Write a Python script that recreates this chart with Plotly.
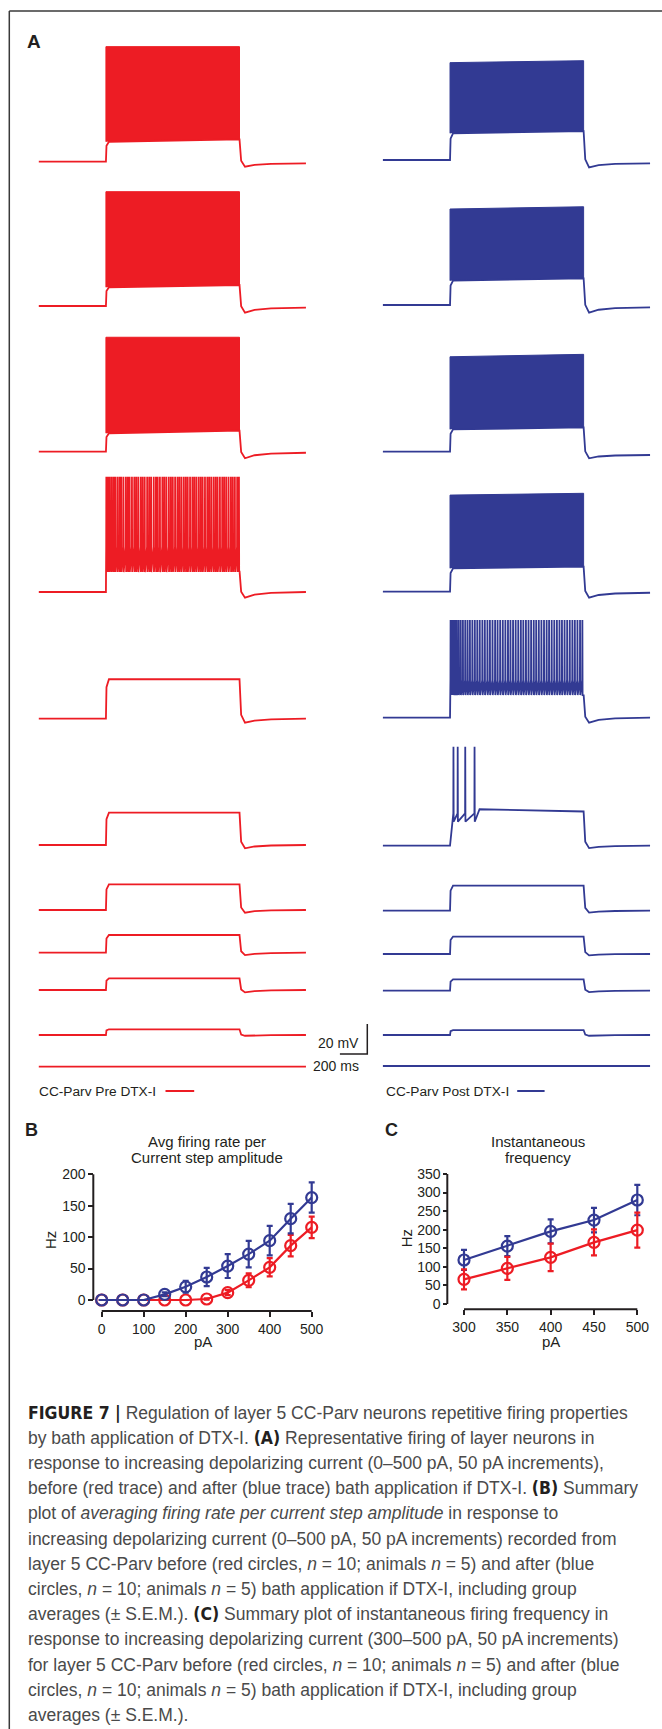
import plotly.graph_objects as go

W, H = 662, 1729
RED, BLUE, INK = '#ed1c24', '#323a93', '#231f20'
SANS = 'Liberation Sans, Arial, Helvetica, sans-serif'

# ---------------- Panel A : representative sweeps (mV relative to rest, ms) ----------------
STEP_PA = [500, 450, 400, 350, 300, 250, 200, 150, 100, 50, 0]
STEP_ON_MS, STEP_OFF_MS, SWEEP_END_MS = 490, 1465, 1950

PRE_MODE = ['block', 'block', 'block', 'train', 'flat', 'flat', 'flat', 'flat', 'flat', 'flat', 'flat']
PRE_PLATEAU_START_MV = [13.3, 12.5, 12.3, 13.3, 26.3, 21.6, 17.1, 11.8, 7.8, 3.8, 0.0]
PRE_PLATEAU_END_MV = [14.9, 14.0, 14.0, 14.2, 26.3, 21.6, 17.1, 11.8, 7.8, 3.8, 0.0]
PRE_PEAK_START_MV = [76.7, 76.2, 76.3, 76.9, None, None, None, None, None, None, None]
PRE_PEAK_END_MV = [76.7, 76.2, 76.3, 76.9, None, None, None, None, None, None, None]
PRE_TROUGH_MV = [None, None, None, 13.3, None, None, None, None, None, None, None]
PRE_THRESHOLD_MV = [None, None, None, 30.2, None, None, None, None, None, None, None]
PRE_DIP_MV = [-3.3, -4.4, -4.4, -3.8, -2.7, -2.2, -1.8, -1.6, -1.6, -0.5, 0.0]
PRE_END_MV = [-1.1, -1.1, -0.7, 0.0, 0.0, 0.0, 0.0, 0.0, 0.0, 0.0, 0.0]
PRE_350PA_SPIKES_MS = [3, 14, 27, 41, 55, 68, 84, 99, 112, 128, 146, 160, 173, 190, 207, 221, 236,
                       254, 268, 283, 301, 316, 330, 349, 365, 378, 394, 412, 426, 441, 459, 474,
                       488, 505, 522, 536, 551, 568, 583, 597, 614, 631, 645, 660, 677, 692, 706,
                       723, 740, 754, 769, 786, 801, 815, 832, 849, 863, 878, 895, 912, 926, 941,
                       958, 971]

POST_MODE = ['block', 'block', 'block', 'block', 'train', 'train', 'flat', 'flat', 'flat', 'flat', 'flat']
POST_PLATEAU_START_MV = [17.8, 16.2, 14.9, 15.6, 15.1, 24.3, 16.7, 11.6, 7.6, 3.3, 0.0]
POST_PLATEAU_END_MV = [19.3, 17.8, 16.2, 16.7, 15.5, 22.8, 16.7, 11.6, 7.6, 3.3, 0.0]
POST_PEAK_START_MV = [64.9, 64.0, 63.3, 64.4, 65.1, 66.0, None, None, None, None, None]
POST_PEAK_END_MV = [66.2, 65.5, 64.9, 65.6, 65.1, 66.0, None, None, None, None, None]
POST_TROUGH_MV = [None, None, None, None, 15.1, 16.0, None, None, None, None, None]
POST_THRESHOLD_MV = [None, None, None, None, 25.1, 21.5, None, None, None, None, None]
POST_DIP_MV = [-4.9, -5.1, -4.4, -4.0, -3.3, -1.6, -1.3, -0.9, -0.9, -0.5, 0.0]
POST_END_MV = [-2.2, -1.6, -2.2, -0.7, 0.0, 0.0, 0.0, 0.0, 0.0, 0.0, 0.0]
POST_300PA_SPIKES_MS = [4, 13, 24, 36, 49, 63, 78, 94, 111, 128, 145, 163, 181, 199, 217, 236, 254,
                        273, 291, 310, 329, 347, 366, 385, 404, 423, 441, 460, 479, 498, 517, 535,
                        554, 573, 592, 611, 629, 648, 667, 686, 705, 723, 742, 761, 780, 799, 817,
                        836, 855, 874, 893, 911, 930, 949, 966]
POST_250PA_SPIKES_MS = [25, 56, 111, 179]

PRE_SPIKES = [None, None, None, PRE_350PA_SPIKES_MS] + [None] * 7
POST_SPIKES = [None, None, None, None, POST_300PA_SPIKES_MS, POST_250PA_SPIKES_MS] + [None] * 5

SCALE_MS, SCALE_MV = 200, 20

# ---------------- Panel B : average firing rate ----------------
B_PA = [0, 50, 100, 150, 200, 250, 300, 350, 400, 450, 500]
B_PRE_HZ = [0, 0, 0, 0, 0, 1.6, 11.7, 31.3, 52.0, 86.5, 115.6]
B_PRE_SEM = [0, 0, 0, 0, 0, 1.0, 4.0, 11.0, 14.5, 17.0, 17.0]
B_POST_HZ = [0, 0, 0, 9.0, 21.0, 36.6, 54.0, 73.0, 94.4, 129.4, 163.0]
B_POST_SEM = [0, 0, 0, 3.0, 9.5, 14.5, 19.0, 21.0, 23.5, 23.5, 24.0]
B_XTICKS = [0, 100, 200, 300, 400, 500]
B_YTICKS = [0, 50, 100, 150, 200]

# ---------------- Panel C : instantaneous frequency ----------------
C_PA = [300, 350, 400, 450, 500]
C_PRE_HZ = [66.4, 96.0, 125.6, 166.0, 199.0]
C_PRE_SEM = [27, 31, 37, 35, 47]
C_POST_HZ = [118.5, 156.0, 195.6, 226.0, 280.0]
C_POST_SEM = [27, 27, 32, 33, 41]
C_XTICKS = [300, 350, 400, 450, 500]
C_YTICKS = [0, 50, 100, 150, 200, 250, 300, 350]

BOLD = "<span style=\"font-family:'Liberation Sans Narrow','DejaVu Sans Condensed',sans-serif;color:#231f20\"><b>{}</b></span>"
CAPTION = [
    BOLD.format("FIGURE 7 |") + " Regulation of layer 5 CC-Parv neurons repetitive firing properties",
    "by bath application of DTX-I. " + BOLD.format("(A)") + " Representative firing of layer neurons in",
    "response to increasing depolarizing current (0–500 pA, 50 pA increments),",
    "before (red trace) and after (blue trace) bath application if DTX-I. " + BOLD.format("(B)") + " Summary",
    "plot of <i>averaging firing rate per current step amplitude</i> in response to",
    "increasing depolarizing current (0–500 pA, 50 pA increments) recorded from",
    "layer 5 CC-Parv before (red circles, <i>n</i> = 10; animals <i>n</i> = 5) and after (blue",
    "circles, <i>n</i> = 10; animals <i>n</i> = 5) bath application if DTX-I, including group",
    "averages (± S.E.M.). " + BOLD.format("(C)") + " Summary plot of instantaneous firing frequency in",
    "response to increasing depolarizing current (300–500 pA, 50 pA increments)",
    "for layer 5 CC-Parv before (red circles, <i>n</i> = 10; animals <i>n</i> = 5) and after (blue",
    "circles, <i>n</i> = 10; animals <i>n</i> = 5) bath application if DTX-I, including group",
    "averages (± S.E.M.).",
]

# ---------------- layout geometry (pixels) ----------------
PX_PER_MS, PX_PER_MV = 0.137, 1.5
PRE_X0_PX, POST_X0_PX = 38.8, 382.9
PRE_ROW_PX = [161.7, 306, 451.7, 592, 718.7, 845, 910, 952.7, 990, 1035, 1066.7]
POST_ROW_PX = [160, 305, 451.7, 591.7, 717.7, 845.7, 910.7, 954, 990.7, 1035, 1066]


def px_x(px):
    return px / W


def px_y(py):
    return 1 - py / H


def sweep_path(mode, p0, p1, pk, trough, thr, dip, end, spikes):
    xs, ys = [0, STEP_ON_MS], [0, 0]
    if mode == 'train':
        for ts in spikes:
            t = STEP_ON_MS + ts
            xs += [t - 1.0, t, t + 1.5]
            ys += [thr, pk, trough]
        last = STEP_ON_MS + spikes[-1] + 1.5
        hump = min(last + 35, STEP_OFF_MS - 1)
        xs += [hump, STEP_OFF_MS]
        ys += [p0, p1]
    else:
        xs += [STEP_ON_MS + 4, STEP_ON_MS + 22, STEP_OFF_MS]
        ys += [0.8 * p0, p0, p1]
    xs += [STEP_OFF_MS + 12, STEP_OFF_MS + 40, STEP_OFF_MS + 110, STEP_OFF_MS + 230, SWEEP_END_MS]
    ys += [0.5 * dip + 0.15 * p1, dip, end + 0.45 * (dip - end), end + 0.15 * (dip - end), end]
    return xs, ys


fig = go.Figure()


def add_column(xref, color, rows_px, mode, ps, pe, pks, pke, tr, th, dip, end, spikes):
    for i in range(len(STEP_PA)):
        off = -rows_px[i] / PX_PER_MV
        if mode[i] == 'block':
            fig.add_trace(go.Scatter(
                x=[STEP_ON_MS, STEP_ON_MS, STEP_OFF_MS, STEP_OFF_MS],
                y=[off + ps[i], off + pks[i], off + pke[i], off + pe[i]],
                fill='toself', fillcolor=color, mode='lines',
                line=dict(color=color, width=1), xaxis=xref, yaxis='y', hoverinfo='skip'))
        xs, ys = sweep_path(mode[i], ps[i], pe[i], pks[i], tr[i], th[i], dip[i], end[i], spikes[i])
        fig.add_trace(go.Scatter(x=xs, y=[off + v for v in ys], mode='lines',
                                 line=dict(color=color, width=1.8), xaxis=xref, yaxis='y',
                                 hoverinfo='skip'))


add_column('x', RED, PRE_ROW_PX, PRE_MODE, PRE_PLATEAU_START_MV, PRE_PLATEAU_END_MV,
           PRE_PEAK_START_MV, PRE_PEAK_END_MV, PRE_TROUGH_MV, PRE_THRESHOLD_MV,
           PRE_DIP_MV, PRE_END_MV, PRE_SPIKES)
add_column('x2', BLUE, POST_ROW_PX, POST_MODE, POST_PLATEAU_START_MV, POST_PLATEAU_END_MV,
           POST_PEAK_START_MV, POST_PEAK_END_MV, POST_TROUGH_MV, POST_THRESHOLD_MV,
           POST_DIP_MV, POST_END_MV, POST_SPIKES)

# scale bar
bar_corner_ms = (367.3 - PRE_X0_PX) / PX_PER_MS
bar_base = -1054 / PX_PER_MV
fig.add_trace(go.Scatter(x=[bar_corner_ms - SCALE_MS, bar_corner_ms, bar_corner_ms],
                         y=[bar_base, bar_base, bar_base + SCALE_MV], mode='lines',
                         line=dict(color=INK, width=1.5), xaxis='x', yaxis='y', hoverinfo='skip'))


def add_summary(xr, yr, pa, hz, sem, color):
    fig.add_trace(go.Scatter(
        x=pa, y=hz, mode='lines+markers', xaxis=xr, yaxis=yr, cliponaxis=False,
        line=dict(color=color, width=2.2),
        marker=dict(symbol='circle-open', size=11, color=color, line=dict(width=2.2, color=color)),
        error_y=dict(type='data', array=sem, visible=True, thickness=2.2, width=3, color=color)))


add_summary('x3', 'y3', B_PA, B_PRE_HZ, B_PRE_SEM, RED)
add_summary('x3', 'y3', B_PA, B_POST_HZ, B_POST_SEM, BLUE)
add_summary('x4', 'y4', C_PA, C_POST_HZ, C_POST_SEM, BLUE)
add_summary('x4', 'y4', C_PA, C_PRE_HZ, C_PRE_SEM, RED)

# ----- axes -----
hidden = dict(visible=False, showgrid=False, zeroline=False, fixedrange=True)
fig.update_layout(
    xaxis=dict(hidden, domain=[0, 1], anchor='y',
               range=[-PRE_X0_PX / PX_PER_MS, (W - PRE_X0_PX) / PX_PER_MS]),
    xaxis2=dict(hidden, domain=[0, 1], anchor='y', overlaying='x',
                range=[-POST_X0_PX / PX_PER_MS, (W - POST_X0_PX) / PX_PER_MS]),
    yaxis=dict(hidden, domain=[0, 1], anchor='x', range=[-H / PX_PER_MV, 0]),
)

tickfont = dict(family=SANS, size=14, color=INK)


def summary_axes(xn, yn, x0_px, x0_val, px_per_x, xdom_px, y0_px, px_per_y, ydom_px,
                 xaxis_px, yaxis_px, xticks, yticks, yticklen):
    xr = [x0_val + (xdom_px[0] - x0_px) / px_per_x, x0_val + (xdom_px[1] - x0_px) / px_per_x]
    yr = [(y0_px - ydom_px[0]) / px_per_y, (y0_px - ydom_px[1]) / px_per_y]
    fig.layout[xn] = dict(domain=[px_x(xdom_px[0]), px_x(xdom_px[1])], range=xr, anchor='free',
                          position=px_y(xaxis_px), showgrid=False, zeroline=False, showline=False,
                          ticks='outside', ticklen=5, tickwidth=2, tickcolor=INK,
                          tickvals=xticks, ticktext=[str(v) for v in xticks], tickfont=tickfont,
                          fixedrange=True)
    fig.layout[yn] = dict(domain=[px_y(ydom_px[0]), px_y(ydom_px[1])], range=yr, anchor='free',
                          position=px_x(yaxis_px), showgrid=False, zeroline=False, showline=False,
                          ticks='outside', ticklen=yticklen, tickwidth=2, tickcolor=INK,
                          tickvals=yticks, ticktext=[str(v) for v in yticks], tickfont=tickfont,
                          fixedrange=True)


summary_axes('xaxis3', 'yaxis3', 101.7, 0, 0.42, (86, 330), 1300, 0.6285, (1320, 1160),
             1311, 93.3, B_XTICKS, B_YTICKS, 5)
summary_axes('xaxis4', 'yaxis4', 464, 300, 0.8665, (452, 652), 1304, 0.3714, (1320, 1162),
             1309.3, 447.3, C_XTICKS, C_YTICKS, 4)

shapes = []
# axis lines of panels B and C
shapes.append(dict(type='line', xref='x3', yref='paper', x0=B_XTICKS[0], x1=B_XTICKS[-1],
                   y0=px_y(1311), y1=px_y(1311), line=dict(color=INK, width=2)))
shapes.append(dict(type='line', xref='paper', yref='y3', x0=px_x(93.3), x1=px_x(93.3),
                   y0=B_YTICKS[0], y1=B_YTICKS[-1], line=dict(color=INK, width=2)))
shapes.append(dict(type='line', xref='x4', yref='paper', x0=C_XTICKS[0], x1=C_XTICKS[-1],
                   y0=px_y(1309.3), y1=px_y(1309.3), line=dict(color=INK, width=2)))
shapes.append(dict(type='line', xref='paper', yref='y4', x0=px_x(447.3), x1=px_x(447.3),
                   y0=C_YTICKS[0], y1=C_YTICKS[-1], line=dict(color=INK, width=2)))
# frame
shapes.append(dict(type='line', xref='paper', yref='paper', x0=px_x(9.3), x1=px_x(9.3),
                   y0=0, y1=px_y(11), line=dict(color='#3a3a3a', width=1.5)))
shapes.append(dict(type='line', xref='paper', yref='paper', x0=px_x(9.3), x1=1,
                   y0=px_y(11), y1=px_y(11), line=dict(color='#3a3a3a', width=1.5)))
# legend keys
shapes.append(dict(type='line', xref='paper', yref='paper', x0=px_x(165.5), x1=px_x(194.2),
                   y0=px_y(1091), y1=px_y(1091), line=dict(color=RED, width=2)))
shapes.append(dict(type='line', xref='paper', yref='paper', x0=px_x(517.2), x1=px_x(544.6),
                   y0=px_y(1091), y1=px_y(1091), line=dict(color=BLUE, width=2)))

ann = []


def text(x, y, s, size=14, xanchor='center', color=INK, bold=False, angle=0, family=SANS):
    ann.append(dict(x=px_x(x), y=px_y(y), xref='paper', yref='paper', text=(f'<b>{s}</b>' if bold else s),
                    showarrow=False, xanchor=xanchor, yanchor='middle', textangle=angle,
                    font=dict(family=family, size=size, color=color)))


text(34, 41.7, 'A', size=19, bold=True)
text(31.7, 1130, 'B', size=18, bold=True)
text(391.6, 1130, 'C', size=18, bold=True)
text(361, 1043, f'{SCALE_MV} mV', xanchor='right')
text(361, 1066, f'{SCALE_MS} ms', xanchor='right')
text(37.2, 1091, 'CC-Parv Pre DTX-I', size=13.7, xanchor='left')
text(384.2, 1091, 'CC-Parv Post DTX-I', size=13.7, xanchor='left')
text(207, 1141.5, 'Avg firing rate per', size=15)
text(207, 1157.3, 'Current step amplitude', size=15)
text(538, 1141.5, 'Instantaneous', size=15)
text(538, 1157.3, 'frequency', size=15)
text(50, 1240, 'Hz', size=15, angle=-90)
text(202.7, 1341.7, 'pA', size=15)
text(406, 1238.3, 'Hz', size=15, angle=-90)
text(550.7, 1341.7, 'pA', size=15)

for i, line in enumerate(CAPTION):
    text(26, 1412.5 + 25.2 * i, line, size=17.5, xanchor='left', color='#4a4a4a')

fig.update_layout(width=W, height=H, margin=dict(l=0, r=0, t=0, b=0),
                  paper_bgcolor='white', plot_bgcolor='rgba(0,0,0,0)', showlegend=False,
                  shapes=shapes, annotations=ann)

fig.write_html('out.html', config={'displayModeBar': False},
               post_script="document.body.style.margin='0';document.body.style.padding='0';"
                           "document.documentElement.style.overflow='hidden';")
